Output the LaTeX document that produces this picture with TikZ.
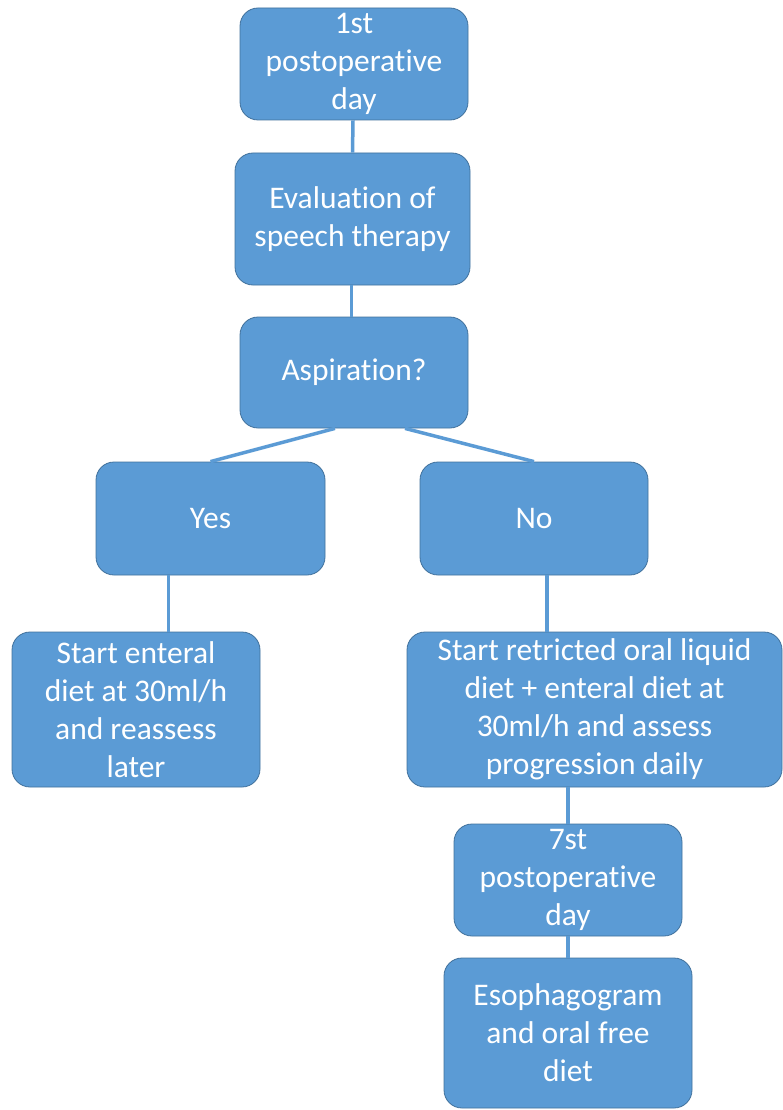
\documentclass[tikz,border=0pt]{standalone}
\usepackage{fontspec}
\setmainfont{Carlito}[Ligatures=NoCommon]
\usepackage{tikz}
\definecolor{boxblue}{HTML}{5B9BD5}
\definecolor{boxedge}{HTML}{41719C}
\begin{document}
\begin{tikzpicture}[x=1pt,y=-1pt]
\tikzstyle{every node}=[draw=boxedge,line width=0.8pt,fill=boxblue,text=white,rounded corners=18pt,align=center,inner sep=0pt,font=\fontsize{31.5}{38}\selectfont];
\tikzstyle{link}=[boxblue,line width=3.5pt];
\useasboundingbox (0,0) rectangle (782,1110);
\node[minimum width=228pt,minimum height=112pt] (first) at (354,64) {1st\\postoperative\\day};
\node[minimum width=235pt,minimum height=132pt] (speech) at (352.5,219) {Evaluation of\\speech therapy};
\node[minimum width=228pt,minimum height=111pt] (asp) at (354,372.5) {Aspiration?};
\node[minimum width=229pt,minimum height=113pt] (yes) at (210.5,518.5) {Yes};
\node[minimum width=228pt,minimum height=113pt] (no) at (534,518.5) {No};
\node[minimum width=248pt,minimum height=155pt] (enteral) at (136,709.5) {Start enteral\\diet at 30ml/h\\and reassess\\later};
\node[minimum width=375pt,minimum height=155pt] (oral) at (594.5,709.5) {Start retricted oral liquid\\diet + enteral diet at\\30ml/h and assess\\progression daily};
\node[minimum width=228pt,minimum height=112pt] (seventh) at (568,880) {7st\\postoperative\\day};
\node[minimum width=248pt,minimum height=150pt] (eso) at (568,1033) {Esophagogram\\and oral free\\diet};
\draw[link] ([xshift=-1pt]first.south) -- (speech.north);
\draw[link] ([xshift=-1pt]speech.north |- speech.south) -- ([xshift=-1pt]speech.north |- asp.north);
\draw[link] ([xshift=-19pt]asp.south) -- (yes.north);
\draw[link] ([xshift=51pt]asp.south) -- (no.north);
\draw[link] ([xshift=-42pt]yes.south) -- ([xshift=-42pt]yes.south |- enteral.north);
\draw[link] ([xshift=13pt]no.south) -- ([xshift=13pt]no.south |- oral.north);
\draw[link] (seventh.north |- oral.south) -- (seventh.north);
\draw[link] (seventh.south) -- (eso.north);
\end{tikzpicture}
\end{document}
